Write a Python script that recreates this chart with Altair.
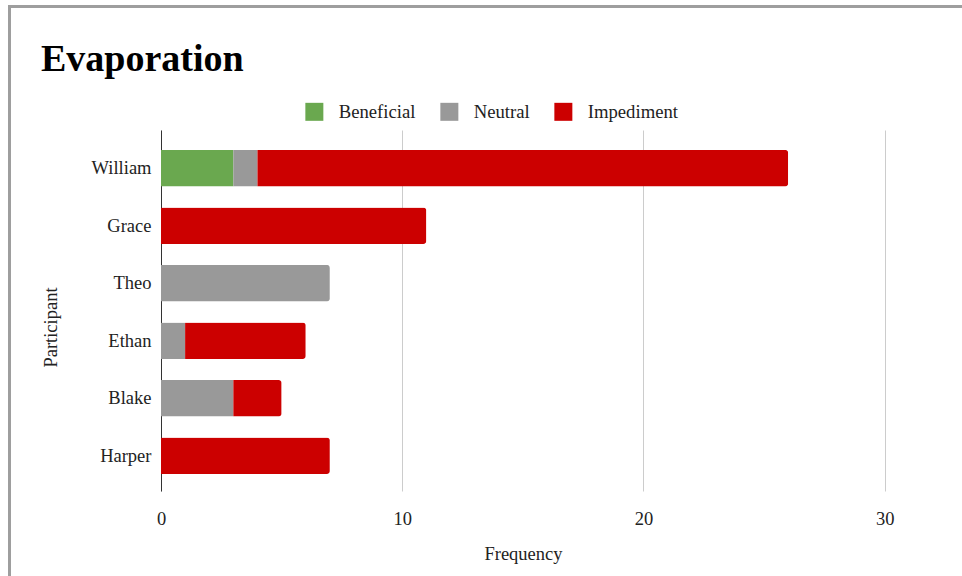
import altair as alt
import pandas as pd

participants = ["William", "Grace", "Theo", "Ethan", "Blake", "Harper"]
categories = ["Beneficial", "Neutral", "Impediment"]
colors = ["#6aa84f", "#999999", "#cc0000"]

beneficial = [3, 0, 0, 0, 0, 0]
neutral = [1, 0, 7, 1, 3, 0]
impediment = [22, 11, 0, 5, 2, 7]

rows = []
for series, vals in zip(categories, [beneficial, neutral, impediment]):
    for p, v in zip(participants, vals):
        if v:
            rows.append({"Participant": p, "Category": series,
                         "Frequency": v, "order": categories.index(series)})
df = pd.DataFrame(rows)

FONT = "'Liberation Serif', 'Times New Roman', 'DejaVu Serif', serif"
PLOT_W, PLOT_H = 796, 361
PAD_L, PAD_T = 161, 130

bars = alt.Chart(df).mark_bar(cornerRadiusEnd=3).encode(
    x=alt.X("sum(Frequency):Q",
            scale=alt.Scale(domain=[0, 33], nice=False),
            axis=alt.Axis(title="Frequency", values=[0, 10, 20, 30],
                          grid=True, gridColor="#cccccc", domain=False,
                          ticks=False, labelPadding=18, labelFlush=False,
                          titleX=362, titleY=62, titleBaseline="middle")),
    y=alt.Y("Participant:N", sort=participants,
            scale=alt.Scale(paddingInner=0.365, paddingOuter=0.32, align=0.54),
            axis=alt.Axis(title="Participant", ticks=False, domainColor="#333333",
                          labelPadding=10, titleX=-111, titleY=197,
                          titleAngle=270, titleBaseline="middle")),
    color=alt.Color("Category:N",
                    scale=alt.Scale(domain=categories, range=colors),
                    legend=alt.Legend(title=None, orient="none", direction="horizontal",
                                      legendX=144, legendY=-28,
                                      symbolType="square", symbolSize=324,
                                      symbolStrokeWidth=0, labelOffset=15,
                                      columnPadding=24)),
    order=alt.Order("order:Q"),
)

one_row = pd.DataFrame({"k": [0]})

# chart heading, set in the top-left corner above the legend
heading = alt.Chart(one_row).mark_text(
    text="Evaporation", font=FONT, fontSize=38, fontWeight="bold",
    color="#000000", align="left", baseline="alphabetic",
).encode(x=alt.value(41 - PAD_L), y=alt.value(71 - PAD_T))

# grey frame along the top and left edges of the page
left_edge = alt.Chart(one_row).mark_rule(color="#9e9e9e", strokeWidth=3).encode(
    x=alt.value(9.5 - PAD_L), y=alt.value(5 - PAD_T), y2=alt.value(600 - PAD_T))
top_edge = alt.Chart(one_row).mark_rule(color="#9e9e9e", strokeWidth=3).encode(
    y=alt.value(6.5 - PAD_T), x=alt.value(8 - PAD_L), x2=alt.value(970 - PAD_L))

chart = alt.layer(bars, heading, left_edge, top_edge).properties(
    width=PLOT_W, height=PLOT_H,
    autosize=alt.AutoSizeParams(type="none"),
    padding={"left": PAD_L, "top": PAD_T, "right": 5, "bottom": 85},
).configure(
    font=FONT, background="white"
).configure_view(
    stroke=None
).configure_axis(
    labelFont=FONT, titleFont=FONT, labelFontSize=18.5, titleFontSize=18.5,
    labelColor="#222222", titleColor="#222222", titleFontWeight="normal",
).configure_legend(
    labelFont=FONT, labelFontSize=18.7, labelColor="#222222",
)

chart.save("out.html", embed_options={"renderer": "svg", "actions": False})
